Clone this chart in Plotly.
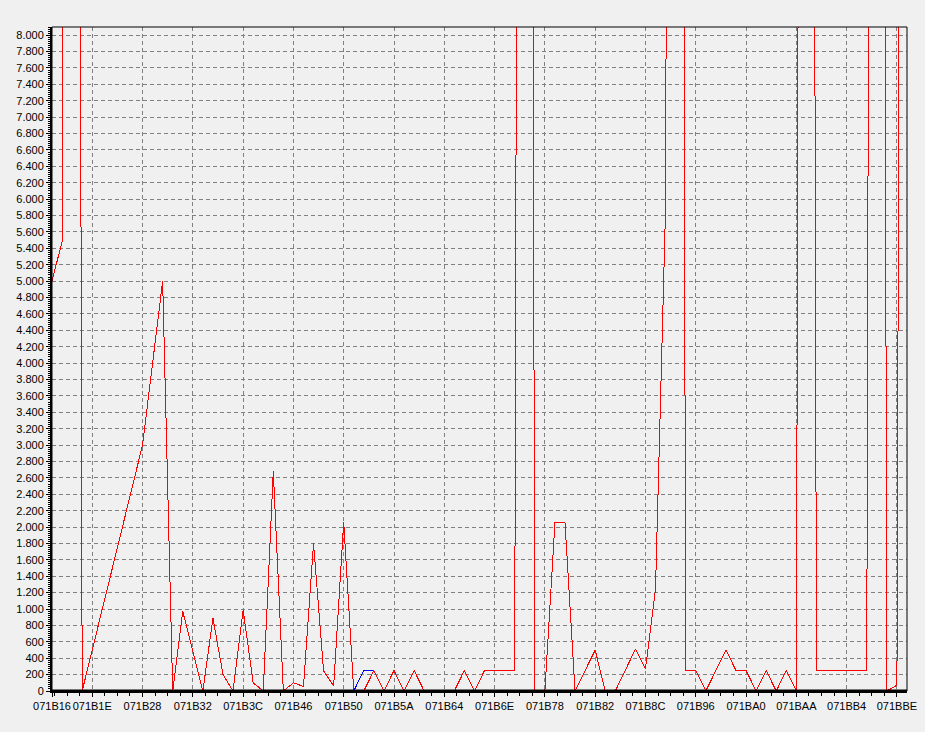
import plotly.graph_objects as go

BASE = 0x071B00

# Red series: address offsets (hex) and values
red_addr = [0x16, 0x18, 0x1A, 0x1C, 0x28, 0x2C, 0x2E, 0x30, 0x34, 0x36, 0x38, 0x3A,
            0x3C, 0x3E, 0x40, 0x42, 0x44, 0x46, 0x48, 0x4A, 0x4C, 0x4E, 0x50, 0x52,
            0x54, 0x56, 0x58, 0x5A, 0x5C, 0x5E, 0x60, 0x66, 0x68, 0x6A, 0x6C, 0x72,
            0x74, 0x76, 0x78, 0x7A, 0x7C, 0x7E, 0x82, 0x84, 0x86, 0x8A, 0x8C, 0x8E,
            0x90, 0x92, 0x94, 0x96, 0x98, 0x9C, 0x9E, 0xA0, 0xA2, 0xA4, 0xA6, 0xA8,
            0xAA, 0xAC, 0xAE, 0xB8, 0xBA, 0xBC, 0xBE, 0xC0]
red_vals = [5000, 5480, 48500, 0, 3000, 5000, 0, 970, 0, 890, 200, 0,
            990, 100, 0, 2680, 0, 100, 55, 1800, 245, 60, 2060, 0,
            0, 250, 0, 250, 0, 250, 0, 0, 250, 0, 250, 250,
            48500, 0, 0, 2050, 2050, 0, 500, 0, 0, 510, 270, 1250,
            5900, 48500, 250, 250, 0, 500, 250, 250, 0, 250, 0, 250,
            0, 48500, 250, 250, 48500, 0, 70, 40000]

# Blue series (visible only where it differs from red)
blue_addr = [0x52, 0x54, 0x56]
blue_vals = [0, 250, 250]

# X tick labels
x_tick_addr = [0x16, 0x1E, 0x28, 0x32, 0x3C, 0x46, 0x50, 0x5A, 0x64, 0x6E, 0x78,
               0x82, 0x8C, 0x96, 0xA0, 0xAA, 0xB4, 0xBE]
x_tick_text = ["071B16", "071B1E", "071B28", "071B32", "071B3C", "071B46", "071B50",
               "071B5A", "071B64", "071B6E", "071B78", "071B82", "071B8C", "071B96",
               "071BA0", "071BAA", "071BB4", "071BBE"]

fig = go.Figure()
fig.add_trace(go.Scatter(x=[BASE + a for a in blue_addr], y=blue_vals, mode="lines",
                         line=dict(color="#0000FF", width=1), hoverinfo="skip"))
fig.add_trace(go.Scatter(x=[BASE + a for a in red_addr], y=red_vals, mode="lines",
                         line=dict(color="#FF0000", width=1), hoverinfo="skip"))

grid = dict(showgrid=True, gridcolor="#808080", gridwidth=1, griddash="4px,3px")

fig.update_layout(
    width=925, height=732,
    margin=dict(l=52, r=18, t=27, b=41, autoexpand=False),
    paper_bgcolor="#F0F0F0", plot_bgcolor="#F0F0F0",
    showlegend=False,
    separators=",.",
    font=dict(family="Liberation Sans, Arial, sans-serif", size=11, color="#000000"),
    xaxis=dict(range=[BASE + 0x16, BASE + 0xC0], tickmode="array",
               tickvals=[BASE + a for a in x_tick_addr], ticktext=x_tick_text,
               tickangle=0, automargin=False,
               ticks="outside", ticklen=4, tickcolor="#000000", tickwidth=1,
               showline=True, linecolor="#000000", linewidth=2, zeroline=False,
               minor=dict(ticks="outside", ticklen=3, tickcolor="#000000",
                          tick0=BASE + 0x1E, dtick=2.5, showgrid=False),
               **grid),
    yaxis=dict(range=[0, 8100], tick0=0, dtick=200, tickformat=",d",
               automargin=False,
               ticks="outside", ticklen=4, tickcolor="#000000", tickwidth=1,
               showline=True, linecolor="#000000", linewidth=2, zeroline=False,
               minor=dict(ticks="outside", ticklen=2, tickcolor="#000000",
                          dtick=25, showgrid=False),
               **grid),
    shapes=[
        dict(type="rect", xref="paper", yref="paper", x0=0, x1=1, y0=0, y1=1,
             line=dict(color="#000000", width=1), layer="above"),
        dict(type="line", xref="paper", yref="y", x0=0, x1=1, y0=0, y1=0,
             line=dict(color="#000000", width=3), layer="above"),
    ],
)

post = (
    "document.body.style.margin='0';"
    "document.querySelectorAll('.scatterlayer path, .gridlayer path')"
    ".forEach(function(p){p.style.shapeRendering='crispEdges';});"
)
fig.write_html("out.html", config={"displayModeBar": False}, post_script=post)
